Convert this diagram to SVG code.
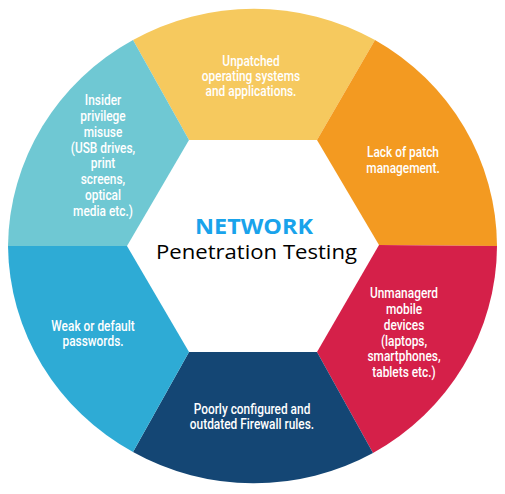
<svg xmlns="http://www.w3.org/2000/svg" width="505" height="494" viewBox="0 0 505 494">
<style>
.seg text{font-family:Roboto,"Liberation Sans",sans-serif;font-size:14.5px;font-weight:500;fill:#fff;text-anchor:middle}
</style>
<rect width="505" height="494" fill="#fff"/>
<g id="seg-top" class="seg">
<path d="M189,140 L133,40 A244.5,239 0 0,1 375,40 L317,140 Z" fill="#F6C95E"/>
<g transform="translate(251 0) scale(0.82 1)">
<text x="0" y="66">Unpatched</text>
<text x="0" y="81">operating systems</text>
<text x="0" y="96">and applications.</text>
</g>
</g>
<g id="seg-orange" class="seg">
<path d="M317,140 L375,40 A244.5,239 0 0,1 497,246 L379,245 Z" fill="#F39A21"/>
<g transform="translate(403 0) scale(0.82 1)">
<text x="0" y="157">Lack of patch</text>
<text x="0" y="173">management.</text>
</g>
</g>
<g id="seg-red" class="seg">
<path d="M379,245 L497,246 A244.5,239 0 0,1 373,453 L317,352 Z" fill="#D52049"/>
<g transform="translate(404 0) scale(0.82 1)">
<text x="0" y="298">Unmanagerd</text>
<text x="0" y="314">mobile</text>
<text x="0" y="330">devices</text>
<text x="0" y="346">(laptops,</text>
<text x="0" y="361">smartphones,</text>
<text x="0" y="377">tablets etc.)</text>
</g>
</g>
<g id="seg-navy" class="seg">
<path d="M317,352 L373,453 A244.5,239 0 0,1 133,452 L189,352 Z" fill="#144674"/>
<g transform="translate(252 0) scale(0.82 1)">
<text x="0" y="414">Poorly configured and</text>
<text x="0" y="429">outdated Firewall rules.</text>
</g>
</g>
<g id="seg-blue" class="seg">
<path d="M189,352 L133,452 A244.5,239 0 0,1 8,246 L127,246 Z" fill="#2EABD5"/>
<g transform="translate(93 0) scale(0.82 1)">
<text x="0" y="331">Weak or default</text>
<text x="0" y="346">passwords.</text>
</g>
</g>
<g id="seg-teal" class="seg">
<path d="M127,246 L8,246 A244.5,239 0 0,1 133,40 L189,140 Z" fill="#6FC8D3"/>
<g transform="translate(103 0) scale(0.82 1)">
<text x="0" y="105">Insider</text>
<text x="0" y="121">privilege</text>
<text x="0" y="137">misuse</text>
<text x="0" y="153">(USB drives,</text>
<text x="0" y="168">print</text>
<text x="0" y="184">screens,</text>
<text x="0" y="200">optical</text>
<text x="0" y="216">media etc.)</text>
</g>
</g>
<g id="center">
<text x="254" y="233.5" font-family="'Open Sans','Noto Sans',sans-serif" font-size="22" font-weight="700" fill="#19A3EB" text-anchor="middle" textLength="118" lengthAdjust="spacingAndGlyphs">NETWORK</text>
<text x="256.5" y="259" font-family="'Open Sans','Noto Sans',sans-serif" font-size="20.5" fill="#000" text-anchor="middle" textLength="201" lengthAdjust="spacingAndGlyphs">Penetration Testing</text>
</g>
</svg>
